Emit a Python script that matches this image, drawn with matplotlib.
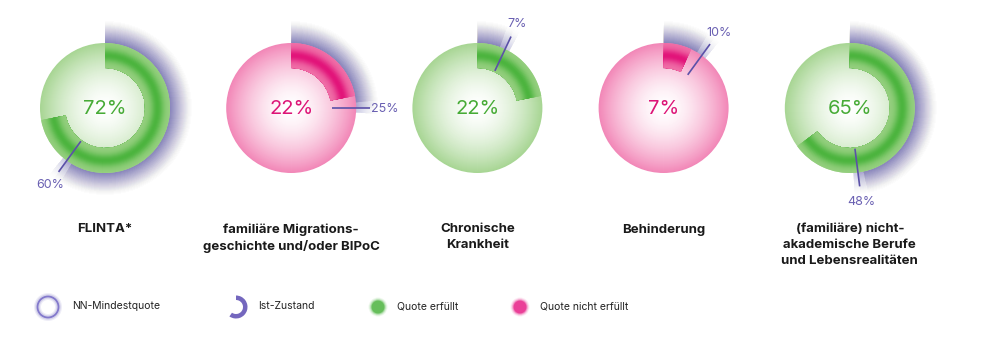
import numpy as np
import matplotlib.pyplot as plt
from matplotlib.patches import Circle, Wedge

# Daten
categories = [
    "FLINTA*",
    "familiäre Migrations-\ngeschichte und/oder BIPoC",
    "Chronische\nKrankheit",
    "Behinderung",
    "(familiäre) nicht-\nakademische Berufe\nund Lebensrealitäten",
]
ist_zustand = [72, 22, 22, 7, 65]
mindestquote = [60, 25, 7, 10, 48]

legend_labels = ["NN-Mindestquote", "Ist-Zustand", "Quote erfüllt", "Quote nicht erfüllt"]

# Farben
purple = np.array([98, 88, 180]) / 255
purple_line = "#5b51a8"
purple_text = "#6a60b2"
palettes = {
    True: dict(edge=np.array([168, 214, 148]) / 255, ring_light=np.array([150, 208, 128]) / 255,
               ring_dark=np.array([76, 180, 62]) / 255, text="#47ab36",
               dot=np.array([96, 188, 84]) / 255),
    False: dict(edge=np.array([242, 136, 184]) / 255, ring_light=np.array([240, 112, 168]) / 255,
                ring_dark=np.array([226, 20, 122]) / 255, text="#dd1477",
                dot=np.array([234, 56, 148]) / 255),
}
white = np.array([1.0, 1.0, 1.0])

R = 65
R_IN = 40
R_HALO = 88

plt.rcParams["font.family"] = ["Inter", "DejaVu Sans"]

fig = plt.figure(figsize=(10, 3.54), dpi=100)
ax = fig.add_axes([0, 0, 1, 1])
ax.set_xlim(0, 1000)
ax.set_ylim(354, 0)
ax.axis("off")


def ang(p):
    # Prozent -> Winkel (y nach unten, Start 12 Uhr, im Uhrzeigersinn)
    return -90 + 3.6 * p


def donut(cx, cy, ist, quote, label):
    ok = ist >= quote
    pal = palettes[ok]

    # Halo fuer Mindestquote, Schichten von aussen nach innen
    a0, a1 = ang(0), ang(quote)
    for r in np.arange(R_HALO, R - 1, -1.0):
        t = (R_HALO - r) / (R_HALO - R)
        a = 0.004 + 0.05 * t
        for d in (-5, 0, 4):
            ax.add_patch(Wedge((cx, cy), r, a0, max(a0 + 0.5, a1 + d), color=purple,
                               alpha=a / 2.2, lw=0, zorder=1))

    # Kreis mit radialem Verlauf
    for r in np.arange(R, 0, -1.0):
        t = (r / R) ** 1.7
        c = white * (1 - t) + pal["edge"] * t
        ax.add_patch(Circle((cx, cy), r, color=c, lw=0, zorder=2))

    # Ring fuer Ist-Zustand
    for r in np.arange(R, R_IN, -1.0):
        t = np.exp(-((r - 53) / 6.5) ** 2)
        c = pal["ring_light"] * (1 - t) + pal["ring_dark"] * t
        ax.add_patch(Wedge((cx, cy), r, ang(0), ang(ist), width=r - R_IN, color=c,
                           lw=0, zorder=3))

    # Markierung der Mindestquote
    th = np.radians(ang(quote))
    ax.plot([cx + 41 * np.cos(th), cx + 79 * np.cos(th)],
            [cy + 41 * np.sin(th), cy + 79 * np.sin(th)],
            color=purple_line, lw=1.2, zorder=4, solid_capstyle="butt")
    ax.text(cx + 94 * np.cos(th), cy + 94 * np.sin(th) + 1, f"{quote}%",
            ha="center", va="center", fontsize=9, color=purple_text, zorder=5)

    # Zahl in der Mitte
    ax.text(cx, cy + 1, f"{ist}%", ha="center", va="center", fontsize=14.5,
            color=pal["text"], zorder=5)

    # Kategorie
    ax.text(cx, 223, label, ha="center", va="top", fontsize=9.5, fontweight="bold",
            color="#1a1a1a", linespacing=1.45, zorder=5)


cxs = 105 + 186.2 * np.arange(len(categories))
for cx, ist, quote, label in zip(cxs, ist_zustand, mindestquote, categories):
    donut(cx, 108, ist, quote, label)

# Legende
ly = 307
# Mindestquote-Ring
for lw, a in [(5, 0.1), (3.2, 0.18)]:
    ax.add_patch(Circle((48, ly), 10.5, fill=False, edgecolor=purple, lw=lw, alpha=a))
ax.add_patch(Circle((48, ly), 10.5, fill=False, edgecolor="#8379cc", lw=1.3))
# Ist-Zustand-Bogen
ax.add_patch(Wedge((236, ly), 11.5, -90, 125, width=4.5, color="#7467be", lw=0))
# Punkte
for x, key in [(378, True), (520, False)]:
    base = palettes[key]["dot"]
    for r, a in [(9.5, 0.1), (8.5, 0.2), (7.5, 0.4), (6.5, 0.9)]:
        ax.add_patch(Circle((x, ly), r, color=base, alpha=a, lw=0))

for x, txt in zip([72, 258, 397, 540], legend_labels):
    ax.text(x, ly - 1, txt, ha="left", va="center", fontsize=7.5, color="#222222")

fig.savefig("out.png", dpi=100)
